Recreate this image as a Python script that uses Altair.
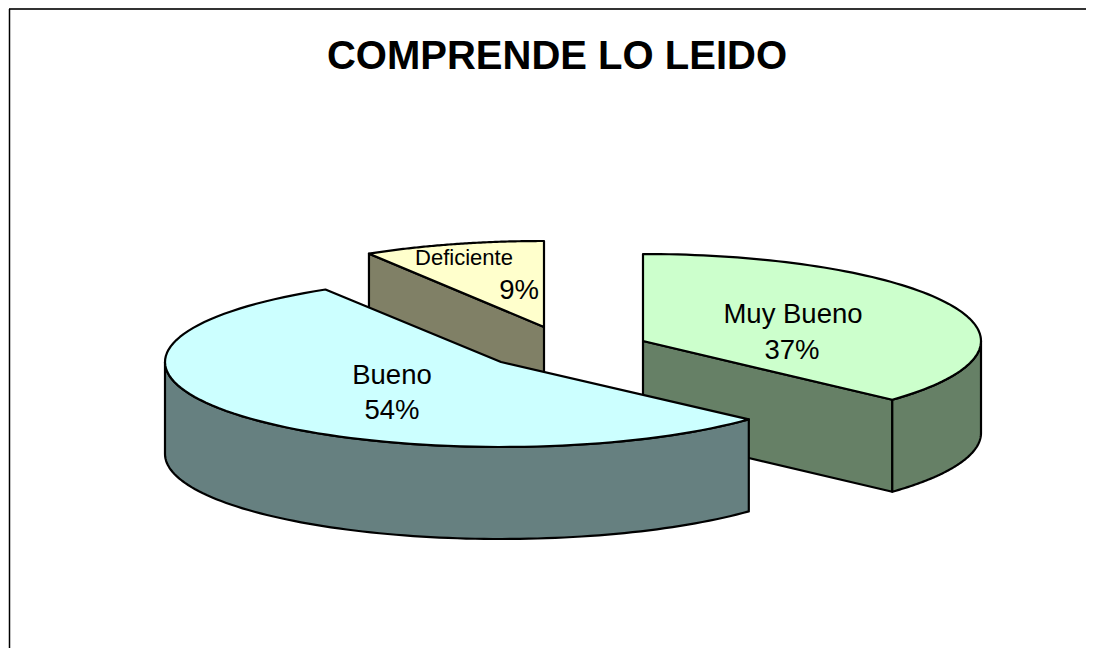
import math
import altair as alt

# Values
categories = ["Muy Bueno", "Bueno", "Deficiente"]
percent = [36.8, 54.45, 8.75]
label_pct = ["37%", "54%", "9%"]
title_text = "COMPRENDE LO LEIDO"

# Layout (page pixels)
OFF = 8
apex_x = [643, 501, 544]
apex_y = [341, 362, 327]
rx = [338, 336, 335]
ry = [87, 85, 86]
depth = 92
top_col = ["#CCFFCC", "#CCFFFF", "#FFFFCC"]
side_col = ["#668066", "#668080", "#808066"]


def pt(i, deg, dz=0):
    t = math.radians(deg)
    return [apex_x[i] + rx[i] * math.sin(t) - OFF,
            apex_y[i] - ry[i] * math.cos(t) + dz - OFF]


def arc(i, a, b, dz=0, n=90):
    return [pt(i, a + (b - a) * k / n, dz) for k in range(n + 1)]


def apex(i, dz=0):
    return [apex_x[i] - OFF, apex_y[i] + dz - OFF]


def shape(coords, fill):
    ring = coords + [coords[0]]
    feat = {"type": "Feature", "properties": {},
            "geometry": {"type": "Polygon", "coordinates": [ring]}}
    return (alt.Chart(alt.Data(values=[feat]))
            .mark_geoshape(fill=fill, stroke="black", strokeWidth=2.2, strokeJoin="round")
            .project(type="identity", scale=1, translate=[0, 0]))


# slice angles clockwise from 12 o'clock
starts, ends, acc = [], [], 0
for p in percent:
    starts.append(acc * 3.6)
    acc += p
    ends.append(acc * 3.6)

layers = []

# Deficiente (back)
i = 2
layers.append(shape([apex(i), pt(i, starts[i]), pt(i, starts[i], depth), apex(i, depth)], side_col[i]))
layers.append(shape([apex(i)] + arc(i, starts[i], ends[i]), top_col[i]))

# Muy Bueno
i = 0
layers.append(shape([apex(i), pt(i, ends[i]), pt(i, ends[i], depth), apex(i, depth)], side_col[i]))
layers.append(shape(arc(i, 90, ends[i]) + arc(i, ends[i], 90, depth), side_col[i]))
layers.append(shape([apex(i)] + arc(i, starts[i], ends[i]), top_col[i]))

# Bueno (front)
i = 1
layers.append(shape(arc(i, starts[i], 270) + arc(i, 270, starts[i], depth), side_col[i]))
layers.append(shape([apex(i)] + arc(i, starts[i], ends[i]), top_col[i]))

# Texts
text_rows = [
    {"t": categories[0], "x": 793 - OFF, "y": 315 - OFF, "s": 27.5},
    {"t": label_pct[0], "x": 792 - OFF, "y": 351 - OFF, "s": 27.5},
    {"t": categories[1], "x": 392 - OFF, "y": 376 - OFF, "s": 27.5},
    {"t": label_pct[1], "x": 392 - OFF, "y": 411 - OFF, "s": 27.5},
    {"t": categories[2], "x": 464 - OFF, "y": 258 - OFF, "s": 22},
    {"t": label_pct[2], "x": 519 - OFF, "y": 291 - OFF, "s": 27.5},
]
labels = (alt.Chart(alt.Data(values=text_rows))
          .mark_text(font="Liberation Sans", color="black", align="center", baseline="middle")
          .encode(x=alt.X("x:Q", scale=None), y=alt.Y("y:Q", scale=None),
                  text="t:N", size=alt.Size("s:Q", scale=None, legend=None)))

title = (alt.Chart(alt.Data(values=[{"t": title_text, "x": 557 - OFF, "y": 57 - OFF}]))
         .mark_text(font="Liberation Sans", fontWeight="bold", fontSize=40, color="black",
                    align="center", baseline="middle")
         .encode(x=alt.X("x:Q", scale=None), y=alt.Y("y:Q", scale=None), text="t:N"))

top_line = alt.Chart(alt.Data(values=[{}])).mark_rule(color="#333333", strokeWidth=2).encode(
    x=alt.value(1), x2=alt.value(1078), y=alt.value(1))
left_line = alt.Chart(alt.Data(values=[{}])).mark_rule(color="black", strokeWidth=1.5).encode(
    x=alt.value(1.5), y=alt.value(1), y2=alt.value(640))

chart = (alt.layer(top_line, left_line, *layers, labels, title)
         .resolve_scale(x="independent", y="independent")
         .properties(width=1078, height=640, padding=0,
                     autosize=alt.AutoSizeParams(type="none"),
                     background="white")
         .configure_view(stroke=None))

chart.save("out.html", embed_options={"renderer": "svg", "actions": False})
